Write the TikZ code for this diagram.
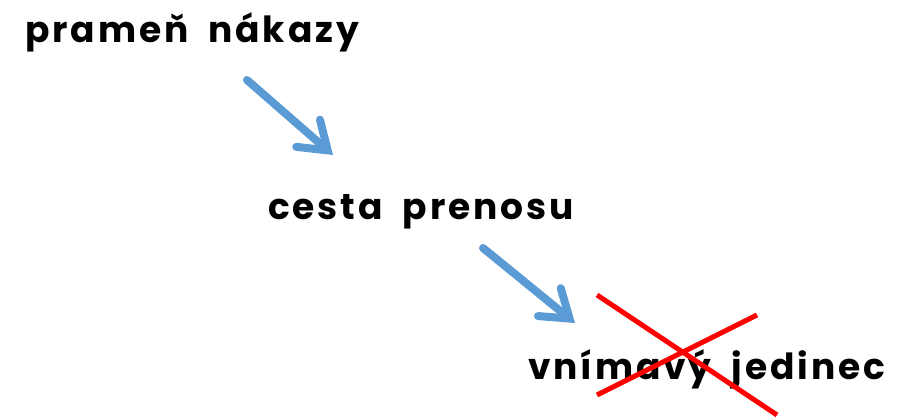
\documentclass[tikz,border=0pt]{standalone}
\usepackage{fontspec}
\setmainfont{Poppins}[UprightFont=* Bold, LetterSpace=8]
\usetikzlibrary{arrows.meta}
\definecolor{arrowblue}{HTML}{5B9BD5}
\definecolor{crossred}{HTML}{FF0000}
\newcommand\chainfont{\fontsize{36}{42}\selectfont\spaceskip=20pt\relax}
\tikzset{
  label text/.style={inner sep=0pt, anchor=base west, font=\chainfont},
  flow/.style={draw=arrowblue, line width=8pt, line cap=round,
    -{Straight Barb[length=26pt, width=36pt, line cap=round, line join=miter]}},
  strike/.style={draw=crossred, line width=5pt}
}
\begin{document}
\begin{tikzpicture}[x=1pt, y=-1pt]
  \useasboundingbox (0,0) rectangle (902,419);
  % the three links of the infection chain
  \node[label text] (source) at (25,43) {prameň nákazy};
  \node[label text] (route) at (268,220) {cesta prenosu};
  \node[label text] (host) at (528,380) {vnímavý jedinec};
  % arrow end points
  \coordinate (a1s) at (247,80);
  \coordinate (a1e) at (333,155);
  \coordinate (a2s) at (483,248);
  \coordinate (a2e) at (575,323);
  \draw[flow] (a1s) -- (a1e);
  \draw[flow] (a2s) -- (a2e);
  % the cross over the susceptible host
  \coordinate (c1s) at (597,295);
  \coordinate (c1e) at (777,415);
  \coordinate (c2s) at (597,395);
  \coordinate (c2e) at (757,315);
  \draw[strike] (c1s) -- (c1e);
  \draw[strike] (c2s) -- (c2e);
\end{tikzpicture}
\end{document}
